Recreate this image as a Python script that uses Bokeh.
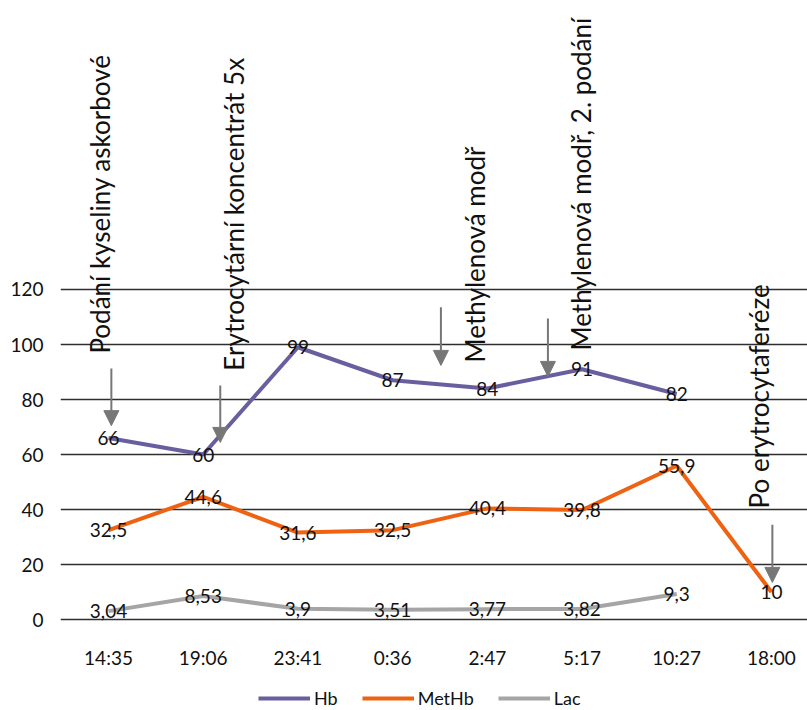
import math
from bokeh.plotting import figure
from bokeh.layouts import column
from bokeh.models import (ColumnDataSource, FixedTicker, Range1d, Legend, LegendItem,
                          Arrow, NormalHead)
from bokeh.core.properties import value
from bokeh.embed import file_html
from bokeh.resources import INLINE

# ---- data ----
times = ["14:35", "19:06", "23:41", "0:36", "2:47", "5:17", "10:27", "18:00"]
hb = [66, 60, 99, 87, 84, 91, 82]
methb = [32.5, 44.6, 31.6, 32.5, 40.4, 39.8, 55.9, 10]
lac = [3.04, 8.53, 3.9, 3.51, 3.77, 3.82, 9.3]
y_ticks = [0, 20, 40, 60, 80, 100, 120]

# event annotations (category position, value position)
notes = ["Podání kyseliny askorbové", "Erytrocytární koncentrát 5x", "Methylenová modř",
         "Methylenová modř, 2. podání", "Po erytrocytaferéze"]
note_x = [-0.095, 1.325, 3.865, 4.984, 6.864]
note_y = [96.7, 90.5, 93.5, 97.8, 40.4]
arrow_x = [0.03, 1.18, 3.51, 4.64, 7.01]
arrow_top = [91.3, 85.1, 113.5, 109.5, 34.5]
arrow_tip = [70.5, 64.4, 92.4, 88.4, 13.5]

HB_C = "#6A5F9E"
MET_C = "#EE6212"
LAC_C = "#A5A5A5"
TXT = "#111111"
FONT = "Lato"


def fmt(v):
    return f"{v:g}".replace(".", ",")


p = figure(width=807, height=688, output_backend="svg", toolbar_location=None,
           x_range=Range1d(-0.507, 7.381), y_range=Range1d(-1.09, 225.09),
           min_border_left=60, min_border_right=0, min_border_top=0, min_border_bottom=66)
p.outline_line_color = None
p.background_fill_color = "white"
p.xgrid.grid_line_color = None
p.ygrid.grid_line_color = "#2e2e2e"
p.ygrid.grid_line_width = 1.5

p.yaxis.ticker = FixedTicker(ticks=y_ticks)
p.yaxis.axis_line_color = None
p.yaxis.major_tick_line_color = None
p.yaxis.minor_tick_line_color = None
p.yaxis.major_label_standoff = 11
p.yaxis.major_label_text_font = FONT
p.yaxis.major_label_text_font_size = "19px"
p.yaxis.major_label_text_color = TXT

p.xaxis.ticker = FixedTicker(ticks=list(range(len(times))))
p.xaxis.major_label_overrides = {i: t for i, t in enumerate(times)}
p.xaxis.axis_line_color = None
p.xaxis.major_tick_line_color = None
p.xaxis.minor_tick_line_color = None
p.xaxis.major_label_standoff = 17
p.xaxis.major_label_text_font = FONT
p.xaxis.major_label_text_font_size = "19px"
p.xaxis.major_label_text_color = TXT

series = [("Hb", hb, HB_C), ("MetHb", methb, MET_C), ("Lac", lac, LAC_C)]
for name, vals, col in series:
    src = ColumnDataSource(dict(x=list(range(len(vals))), y=vals))
    p.line("x", "y", source=src, line_color=col, line_width=4)

for name, vals, col in series:
    src = ColumnDataSource(dict(x=list(range(len(vals))), y=vals, t=[fmt(v) for v in vals]))
    p.text("x", "y", text="t", source=src, text_align="center", text_baseline="middle",
           text_font=value(FONT), text_font_size="19px", text_color=TXT)

# annotations
nsrc = ColumnDataSource(dict(x=note_x, y=note_y, t=notes))
p.text("x", "y", text="t", source=nsrc, angle=math.pi / 2, text_align="left",
       text_baseline="middle", text_font=value(FONT), text_font_size="26px",
       text_color=TXT)

asrc = ColumnDataSource(dict(x0=arrow_x, y0=arrow_top, x1=arrow_x, y1=arrow_tip))
p.add_layout(Arrow(x_start="x0", y_start="y0", x_end="x1", y_end="y1", source=asrc,
                   line_color="#777777", line_width=2,
                   end=NormalHead(size=15, fill_color="#777777", line_color="#777777")))

# legend strip below the chart (series keys only, no data drawn here)
lg = figure(width=807, height=22, output_backend="svg", toolbar_location=None,
            x_range=Range1d(0, 1), y_range=Range1d(0, 1), x_axis_type=None, y_axis_type=None,
            min_border=0)
lg.outline_line_color = None
lg.xgrid.grid_line_color = None
lg.ygrid.grid_line_color = None
items = []
for name, vals, col in series:
    r = lg.line(x=[float("nan")], y=[float("nan")], line_color=col, line_width=4)
    items.append(LegendItem(label=name, renderers=[r]))
legend = Legend(items=items, orientation="horizontal", location=(198, 1),
                glyph_width=52, glyph_height=14, label_standoff=4, spacing=24,
                padding=0, margin=0, border_line_color=None, background_fill_alpha=0,
                label_text_font=FONT, label_text_font_size="18px", label_text_color=TXT)
lg.add_layout(legend, "center")

layout = column(p, lg, spacing=0)
open("out.html", "w").write(file_html(layout, INLINE))
